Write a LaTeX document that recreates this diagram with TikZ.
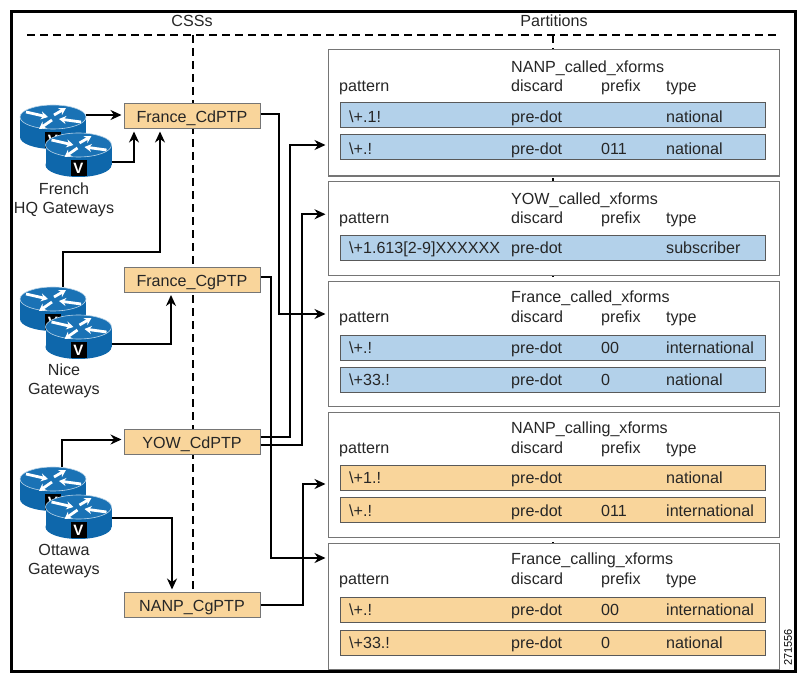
\documentclass[tikz,border=0pt]{standalone}
\usepackage{fontspec}
\setmainfont{Liberation Sans}
\usetikzlibrary{positioning,calc,arrows.meta}
\definecolor{boxorange}{HTML}{F9D59B}
\definecolor{rowblue}{HTML}{B3D1EA}
\definecolor{gwtop}{HTML}{1A72B5}
\definecolor{gwside}{HTML}{0E67AB}
\definecolor{edgegray}{HTML}{757575}
\tikzset{
  lbl/.style={font=\fontsize{16.1}{19}\selectfont,inner sep=0pt,text=black!85},
  cell/.style={lbl,anchor=base west},
  css/.style={draw=edgegray,line width=1pt,fill=boxorange,minimum width=136pt,minimum height=25pt,inner sep=0pt,text height=16pt,text depth=3pt,font=\fontsize{16.1}{19}\selectfont,text=black!85},
  partbox/.style={draw=edgegray,line width=1pt,fill=white,minimum width=451pt,inner sep=0pt},
  bluerow/.style={draw=black!65,line width=1pt,fill=rowblue,minimum width=425pt,minimum height=25pt,inner sep=0pt},
  orangerow/.style={draw=black!65,line width=1pt,fill=boxorange,minimum width=425pt,minimum height=25pt,inner sep=0pt},
  link/.style={line width=2pt,-{Stealth[length=11pt,width=10pt]},shorten >=2pt},
  divider/.style={line width=1.8pt,dash pattern=on 8pt off 5pt},
  gwarrow/.style={white,line width=2.8pt,-{Stealth[length=7pt,width=8pt]}},
  gwslot/.style={minimum width=66pt,minimum height=44pt,inner sep=0pt}
}
% one gateway: name, x, y of the top face centre
\newcommand{\gwrouter}[3]{
  \begin{scope}[shift={(#2,#3)}]
    \fill[gwside] (0,20) ellipse [x radius=33pt,y radius=12pt];
    \fill[gwside] (-33,0) rectangle (33,20);
    \fill[gwtop,draw=white!70!gwtop,line width=0.6pt] (0,0) ellipse [x radius=33pt,y radius=12pt];
    \draw[gwarrow] (-27,-5) -- (-5,0);
    \draw[gwarrow] (1,-2) -- (13,-9);
    \draw[gwarrow] (28,5) -- (6,2);
    \draw[gwarrow] (-1,3) -- (-14,12);
    \node[fill=black,text=white,inner sep=0pt,minimum width=16pt,minimum height=16pt,font=\bfseries\fontsize{15}{15}\selectfont] (#1v) at (0,23) {V};
    \node[gwslot] (#1) at (0,10) {};
  \end{scope}
}
% title and column heads of one partition: name, title y, heads y, title
\newcommand{\xhead}[4]{
  \node[cell] (#1title) at (511,#2) {#4};
  \node[cell] (#1pat) at (339,#3) {pattern};
  \node[cell] (#1dis) at (511,#3) {discard};
  \node[cell] (#1pre) at (601,#3) {prefix};
  \node[cell] (#1typ) at (666,#3) {type};
}
% one row: name, y, style, pattern, prefix, type, text y
\newcommand{\xrow}[7]{
  \node[#3] (#1) at (552.5,#2) {};
  \node[cell] (#1a) at (349,#7) {#4};
  \node[cell] (#1b) at (511,#7) {pre-dot};
  \node[cell] (#1c) at (601,#7) {#5};
  \node[cell] (#1d) at (666,#7) {#6};
}
\begin{document}
\begin{tikzpicture}[x=1pt,y=-1pt]
  \useasboundingbox (0,0) rectangle (806,682);
  \fill[white] (0,0) rectangle (806,682);

  % dividers
  \node[lbl] (csslabel) at (192,21) {CSSs};
  \node[lbl] (partlabel) at (554,21) {Partitions};
  \draw[divider] (27,35) -- (780,35);
  \draw[divider] (193,35) -- (193,592);
  \draw[divider] (553,35) -- (553,545);

  % partitions
  \node[partbox,minimum height=126pt] (nanpcalled) at (553.5,113) {};
  \node[partbox,minimum height=94.5pt] (yowcalled) at (553.5,228.25) {};
  \node[partbox,minimum height=125pt] (frcalled) at (553.5,343.5) {};
  \node[partbox,minimum height=125pt] (nanpcalling) at (553.5,474.5) {};
  \node[partbox,minimum height=126pt] (frcalling) at (553.5,606) {};

  \xhead{nc}{72.5}{91.5}{NANP\_called\_xforms}
  \xrow{nca}{115.5}{bluerow}{\textbackslash+.1!}{}{national}{122.5}
  \xrow{ncb}{147.5}{bluerow}{\textbackslash+.!}{011}{national}{154.5}

  \xhead{yc}{204.5}{223.5}{YOW\_called\_xforms}
  \xrow{yca}{247.5}{bluerow}{\textbackslash+1.613[2-9]XXXXXX}{}{subscriber}{253}

  \xhead{fc}{302.5}{322}{France\_called\_xforms}
  \xrow{fca}{347.5}{bluerow}{\textbackslash+.!}{00}{international}{353}
  \xrow{fcb}{379.5}{bluerow}{\textbackslash+33.!}{0}{national}{385}

  \xhead{ng}{433.5}{453}{NANP\_calling\_xforms}
  \xrow{nga}{477.5}{orangerow}{\textbackslash+1.!}{}{national}{483}
  \xrow{ngb}{510}{orangerow}{\textbackslash+.!}{011}{international}{516}

  \xhead{fg}{564.5}{584.5}{France\_calling\_xforms}
  \xrow{fga}{609.5}{orangerow}{\textbackslash+.!}{00}{international}{615}
  \xrow{fgb}{642.5}{orangerow}{\textbackslash+33.!}{0}{national}{648}

  % calling search spaces
  \node[css] (frcd) at (192,116.5) {France\_CdPTP};
  \node[css] (frcg) at (192,280) {France\_CgPTP};
  \node[css] (yowcd) at (192,441.5) {YOW\_CdPTP};
  \node[css] (nanpcg) at (192,604.5) {NANP\_CgPTP};

  % gateways
  \gwrouter{frtop}{53}{117}
  \gwrouter{frbot}{78.5}{145}
  \gwrouter{nitop}{53}{299}
  \gwrouter{nibot}{78.5}{327}
  \gwrouter{ottop}{53}{479}
  \gwrouter{otbot}{78.5}{507}
  \node[lbl,align=center] (frlabel) at (64,199.5) {French\\HQ Gateways};
  \node[lbl,align=center] (nilabel) at (64,380.5) {Nice\\Gateways};
  \node[lbl,align=center] (otlabel) at (64,561) {Ottawa\\Gateways};

  % gateways to CSSs
  \draw[link] ([yshift=1.5pt]frtop.east |- frcd.west) -- ([yshift=1.5pt]frcd.west);
  \draw[link] ([yshift=-7pt]frbot.east) -| ([xshift=-58pt]frcd.south);
  \draw[link] ([xshift=10pt]nitop.north) -- ++(0,-35) -| ([xshift=-32pt]frcd.south);
  \draw[link] ([yshift=-7pt]nibot.east) -| ([xshift=-21pt]frcg.south);
  \draw[link] ([xshift=9pt]ottop.north) |- ([yshift=2pt]yowcd.west);
  \draw[link] ([yshift=-1pt]otbot.east) -| ([xshift=-20pt]nanpcg.north);

  % CSSs to partitions
  \draw[link] ([yshift=2pt]frcd.east) -- ++(18,0) |- ([yshift=29.5pt]frcalled.west);
  \draw[link] ([yshift=3pt]frcg.east) -- ++(10,0) |- ([yshift=48pt]frcalling.west);
  \draw[link] ([yshift=4.5pt]yowcd.east) -- ++(29,0) |- ([yshift=-32pt]nanpcalled.west);
  \draw[link] ([yshift=-3.5pt]yowcd.east) -- ++(41,0) |- ([yshift=14pt]yowcalled.west);
  \draw[link] (nanpcg.east) -- ++(42.5,0) |- ([yshift=-9.5pt]nanpcalling.west);

  % frame
  \draw[line width=3pt] (11.5,11.5) rectangle (795,671.5);
  \node[rotate=90,inner sep=0pt,font=\fontsize{11}{11}\selectfont] (figno) at (788,647.5) {271556};
\end{tikzpicture}
\end{document}
